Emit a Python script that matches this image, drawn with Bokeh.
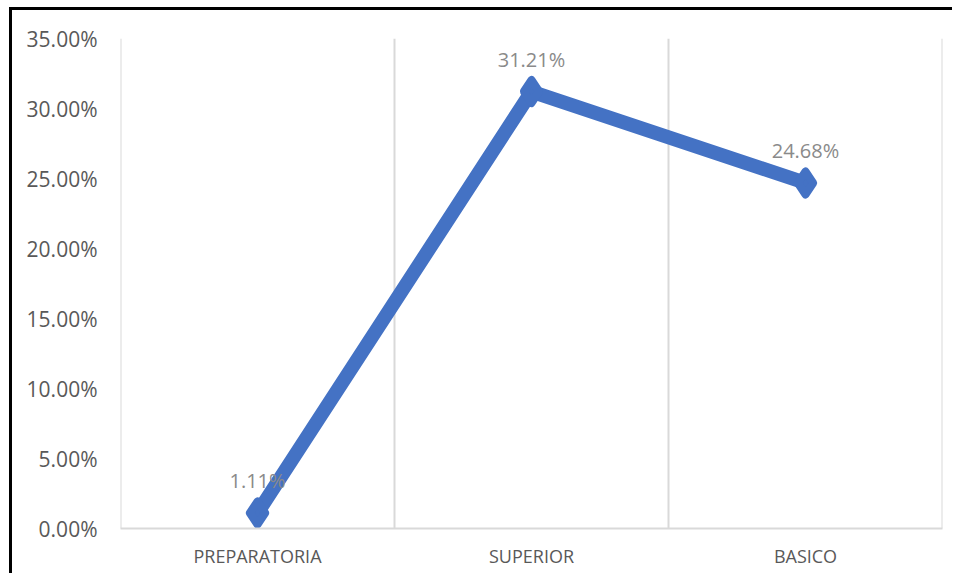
from bokeh.plotting import figure
from bokeh.models import Range1d, FixedTicker, NumeralTickFormatter, ColumnDataSource, LabelSet, Span, Spacer
from bokeh.layouts import column, row
from bokeh.core.properties import value
from bokeh.embed import file_html
from bokeh.resources import INLINE

categories = ["PREPARATORIA", "SUPERIOR", "BASICO"]
values = [0.0111, 0.3121, 0.2468]
value_labels = ["1.11%", "31.21%", "24.68%"]
y_ticks = [0.0, 0.05, 0.10, 0.15, 0.20, 0.25, 0.30, 0.35]

xs = [i + 0.5 for i in range(len(categories))]
src = ColumnDataSource(dict(x=xs, y=values, lab=value_labels))

p = figure(width=943, height=566, output_backend="svg", toolbar_location=None,
           x_range=Range1d(0, len(categories)), y_range=Range1d(0, 0.35),
           min_border_left=108, min_border_right=13, min_border_top=28, min_border_bottom=48)
p.styles = {"border-left": "3px solid black", "border-top": "3px solid black"}
p.outline_line_color = None
p.background_fill_color = "white"
p.border_fill_color = "white"

FONT = "Open Sans"
p.yaxis.ticker = FixedTicker(ticks=y_ticks)
p.yaxis.formatter = NumeralTickFormatter(format="0.00%")
p.yaxis.axis_line_color = None
p.yaxis.major_tick_line_color = None
p.yaxis.minor_tick_line_color = None
p.yaxis.major_label_standoff = 17
p.yaxis.major_label_text_font = FONT
p.yaxis.major_label_text_font_size = "21px"
p.yaxis.major_label_text_color = "#595959"

p.xaxis.ticker = FixedTicker(ticks=xs)
p.xaxis.major_label_overrides = {x: c for x, c in zip(xs, categories)}
p.xaxis.axis_line_color = "#d9d9d9"
p.xaxis.axis_line_width = 2
p.xaxis.major_tick_line_color = None
p.xaxis.minor_tick_line_color = None
p.xaxis.major_label_standoff = 9
p.xaxis.major_label_text_font = FONT
p.xaxis.major_label_text_font_size = "18px"
p.xaxis.major_label_text_color = "#595959"

p.ygrid.grid_line_color = None
p.xgrid.ticker = FixedTicker(ticks=list(range(1, len(categories))))
p.xgrid.grid_line_color = "#d9d9d9"
p.xgrid.grid_line_width = 2
for loc in (0, len(categories)):
    p.add_layout(Span(location=loc, dimension="height", line_color="#d9d9d9", line_width=2))

blue = "#4472C4"
p.line("x", "y", source=src, line_color=blue, line_width=14, line_join="round")
p.scatter("x", "y", source=src, marker="diamond", size=23, fill_color=blue,
          line_color=blue, line_width=8, line_join="round")

labels = LabelSet(x="x", y="y", text="lab", source=src, y_offset=32,
                  text_align="center", text_baseline="middle",
                  text_font=value(FONT), text_font_size="20px", text_color="#8a8a8a")
p.add_layout(labels)

root = column(Spacer(width=955, height=7), row(Spacer(width=9, height=569), p))

open("out.html", "w").write(file_html(root, INLINE))
